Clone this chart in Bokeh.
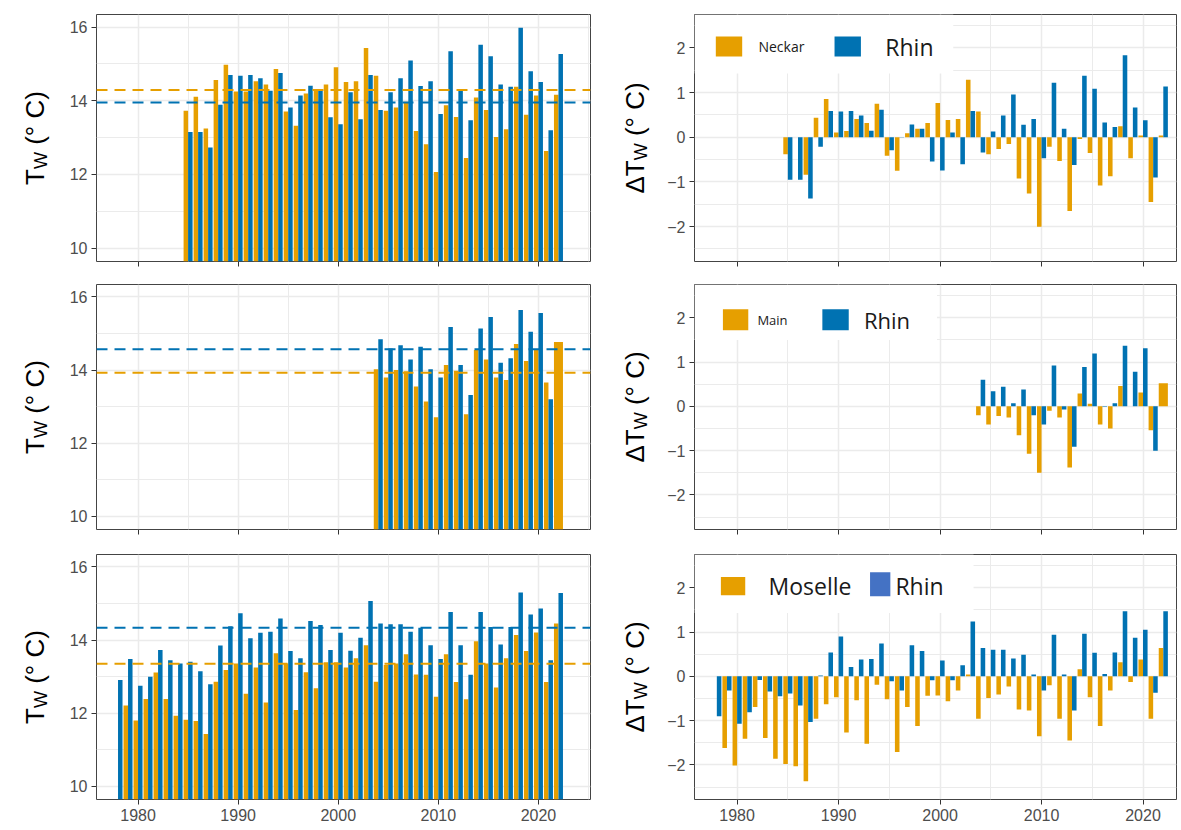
import math
import numpy as np
from collections import Counter
from bokeh.plotting import figure
from bokeh.layouts import column, row
from bokeh.models import Range1d, FixedTicker, Span, Label
from bokeh.embed import file_html
from bokeh.resources import INLINE
from bokeh.core.properties import value

ORANGE = "#E69F00"
BLUE = "#0072B2"
BLUE_LEG = "#4472C4"
NAN = float("nan")

# ---------------- data ----------------
# Neckar vs Rhine
years_neckar = list(range(1985, 2023))
neckar_T = [13.73, 14.11, 13.25, 14.56, 14.98, 14.25, 14.25, 14.53, 14.44, 14.86,
            13.71, 13.32, 14.20, 14.29, 14.44, 14.91, 14.51, 14.53, 15.43, 14.68,
            13.73, 13.82, 13.97, 13.18, 12.82, 12.07, 13.88, 13.56, 12.45, 14.09,
            13.75, 13.02, 13.23, 14.38, 13.62, 14.14, 12.64, 14.16]
rhin_T_neckar = [13.15, 13.15, 12.73, 13.89, 14.70, 14.68, 14.70, 14.61, 14.27, 14.75,
                 13.82, 14.14, 14.41, 14.29, 13.55, 13.36, 14.23, 13.50, 14.70, 13.75,
                 14.23, 14.61, 15.09, 14.40, 14.53, 13.64, 15.34, 14.29, 13.47, 15.52,
                 15.21, 14.44, 14.38, 15.98, 14.80, 14.51, 13.20, 15.27]
neckar_dT = [-0.38, 0.00, -0.84, 0.44, 0.86, 0.11, 0.14, 0.41, 0.32, 0.75,
             -0.41, -0.75, 0.09, 0.19, 0.32, 0.77, 0.39, 0.41, 1.29, 0.58,
             -0.38, -0.26, -0.15, -0.92, -1.26, -2.00, -0.21, -0.53, -1.65, -0.04,
             -0.35, -1.08, -0.87, 0.25, -0.47, 0.04, -1.45, 0.04]
rhin_dT_neckar = [-0.95, -0.95, -1.37, -0.21, 0.59, 0.58, 0.59, 0.49, 0.15, 0.62,
                  -0.29, 0.01, 0.29, 0.19, -0.54, -0.74, 0.11, -0.60, 0.59, -0.34,
                  0.13, 0.49, 0.96, 0.28, 0.41, -0.47, 1.22, 0.19, -0.62, 1.38,
                  1.09, 0.33, 0.23, 1.84, 0.67, 0.38, -0.90, 1.14]
mean_neckar_T = 14.29
mean_rhin_T_neckar = 13.95

# Main vs Rhine
years_main = list(range(2004, 2023))
main_T = [14.02, 13.80, 14.00, 13.97, 13.55, 13.14, 12.71, 14.14, 13.98, 12.79,
          14.55, 14.29, 13.80, 13.73, 14.71, 14.25, 14.56, 13.66, 14.77]
main_dT = [-0.20, -0.41, -0.22, -0.25, -0.65, -1.07, -1.50, -0.10, -0.25, -1.38,
           0.29, 0.06, -0.41, -0.50, 0.46, 0.00, 0.31, -0.54, 0.52]
years_rhin_main = list(range(2004, 2022))
rhin_T_main = [14.84, 14.59, 14.68, 14.29, 14.64, 14.02, 13.80, 15.18, 14.14, 13.32,
               15.14, 15.45, 14.20, 14.32, 15.64, 15.05, 15.56, 13.20]
rhin_dT_main = [0.60, 0.34, 0.44, 0.07, 0.38, -0.20, -0.41, 0.92, -0.07, -0.91,
                0.89, 1.19, -0.01, 0.07, 1.37, 0.78, 1.31, -1.00]
mean_main_T = 13.93
mean_rhin_T_main = 14.57

# Moselle vs Rhine
years_moselle = list(range(1978, 2023))
moselle_T = [NAN, 12.21, 11.80, 12.39, 13.11, 12.39, 11.93, 11.82, 11.79, 11.43,
             12.86, 13.18, 13.36, 12.53, 13.25, 12.29, 13.64, 13.36, 12.09, 13.12,
             12.68, 13.39, 13.39, 13.25, 13.50, 13.86, 12.86, 13.32, 13.36, 13.61,
             13.06, 13.05, 12.45, 13.61, 12.85, 12.38, 13.97, 13.36, 12.70, 13.50,
             14.14, 13.70, 14.21, 12.85, 14.45]
rhin_T_moselle = [12.91, 13.48, 12.75, 13.00, 13.73, 13.45, 13.36, 13.41, 13.15, 12.79,
                  13.85, 14.38, 14.73, 14.05, 14.20, 14.23, 14.59, 13.70, 13.50, 14.52,
                  14.41, 13.73, 14.20, 13.71, 14.06, 15.07, 14.45, 14.43, 14.43, 14.23,
                  14.34, 13.86, 13.48, 14.77, 13.86, 13.05, 14.77, 14.36, 13.88, 14.36,
                  15.30, 14.70, 14.86, 13.45, 15.29]
moselle_dT = [NAN, -1.62, -2.01, -1.41, -0.69, -1.39, -1.86, -1.98, -2.03, -2.37,
              -0.96, -0.63, -0.47, -1.27, -0.54, -1.52, -0.19, -0.52, -1.71, -0.69,
              -1.12, -0.44, -0.43, -0.56, -0.32, 0.04, -0.96, -0.49, -0.41, -0.23,
              -0.75, -0.77, -1.35, -0.20, -0.96, -1.45, 0.16, -0.47, -1.12, -0.32,
              0.32, -0.13, 0.38, -0.96, 0.64]
rhin_dT_moselle = [-0.90, -0.32, -1.07, -0.81, -0.08, -0.34, -0.45, -0.39, -0.66, -1.03,
                   0.02, 0.54, 0.90, 0.21, 0.38, 0.39, 0.74, -0.11, -0.32, 0.70,
                   0.57, -0.09, 0.36, -0.09, 0.25, 1.24, 0.64, 0.60, 0.60, 0.40,
                   0.49, 0.04, -0.32, 0.94, 0.04, -0.77, 0.96, 0.53, 0.05, 0.54,
                   1.47, 0.87, 1.05, -0.37, 1.47]
mean_moselle_T = 13.35
mean_rhin_T_moselle = 14.34

x_ticks = [1980, 1990, 2000, 2010, 2020]
x_minor = [1975, 1985, 1995, 2005, 2015, 2025]
t_ticks = [10, 12, 14, 16]
t_minor = [11, 13, 15]
dt_ticks = [-2, -1, 0, 1, 2]
dt_minor = [-2.5, -1.5, -0.5, 0.5, 1.5, 2.5]

# ---------------- layout constants ----------------
T_RANGE = (9.64, 16.34)
DT_RANGE = (-2.78, 2.75)
XL_RANGE = (1975.85, 2025.2)
XR_RANGE = (1975.8, 2023.3)
ROWS = [(14, 247, 12), (11, 245, 12), (13, 245, 27)]  # top border, frame h, bottom border
LW_FRAME, LW_BL, LW_BR = 494, 45, 8
RW_FRAME, RW_BL, RW_BR = 482, 42, 3
LT_W, RT_W = 51, 54
FONT = "Liberation Sans"
GRID = "#EBEBEB"
DARK = "#333333"


def dodge(series):
    cnt = Counter(y for yrs, _, _ in series for y in yrs)
    out = []
    for i, (yrs, vals, color) in enumerate(series):
        xs, ws, vs = [], [], []
        for yv, v in zip(yrs, vals):
            if cnt[yv] >= 2:
                x = yv + (-0.225 if i == 0 else 0.225)
                w = 0.45
            else:
                x, w = yv, 0.9
            if v is None or (isinstance(v, float) and math.isnan(v)):
                continue
            xs.append(x); ws.append(w); vs.append(v)
        out.append((xs, ws, vs, color))
    return out


def panel(rowi, left, yr, yticks, yminor, show_x):
    bt, fh, bb = ROWS[rowi]
    if left:
        fw, bl, br, xr = LW_FRAME, LW_BL, LW_BR, XL_RANGE
    else:
        fw, bl, br, xr = RW_FRAME, RW_BL, RW_BR, XR_RANGE
    p = figure(frame_width=fw, frame_height=fh, min_border_top=bt, min_border_bottom=bb,
               min_border_left=bl, min_border_right=br, x_range=Range1d(*xr),
               y_range=Range1d(*yr), output_backend="svg", toolbar_location=None, tools="")
    p.background_fill_color = "white"
    p.border_fill_color = "white"
    p.outline_line_color = "#444444"
    p.outline_line_width = 1
    p.xaxis.ticker = FixedTicker(ticks=x_ticks, minor_ticks=x_minor)
    p.yaxis.ticker = FixedTicker(ticks=yticks, minor_ticks=yminor)
    for ax in (p.xaxis[0], p.yaxis[0]):
        ax.axis_line_color = None
        ax.major_tick_line_color = DARK
        ax.major_tick_out = 5
        ax.major_tick_in = 0
        ax.minor_tick_out = 0
        ax.minor_tick_in = 0
        ax.major_label_text_color = "#4D4D4D"
        ax.major_label_text_font = FONT
        ax.major_label_text_font_size = "16px"
        ax.major_label_standoff = 4
    if not show_x:
        p.xaxis.major_label_text_color = None
        p.xaxis.major_label_text_font_size = "1px"
        p.xaxis.major_label_standoff = 0
    for g in (p.xgrid[0], p.ygrid[0]):
        g.grid_line_color = GRID
        g.grid_line_width = 1.5
        g.minor_grid_line_color = GRID
        g.minor_grid_line_width = 1
    return p


def title_fig(rowi, w, delta, cx):
    bt, fh, bb = ROWS[rowi]
    p = figure(frame_width=w, frame_height=fh, min_border_top=bt, min_border_bottom=bb,
               min_border_left=0, min_border_right=0, x_range=Range1d(0, w),
               y_range=Range1d(0, fh), x_axis_type=None, y_axis_type=None,
               output_backend="svg", toolbar_location=None, tools="")
    p.outline_line_color = None
    p.background_fill_color = "white"
    p.border_fill_color = "white"
    big, small = 26, 18
    head = "ΔT" if delta else "T"
    w_head = (0.668 + 0.611) * big if delta else 0.611 * big
    w_sub = 0.944 * small
    w_space = 0.278 * big
    w_rest = 2.066 * big
    total = w_head + w_sub + w_space + w_rest
    y0 = fh / 2 - total / 2
    kw = dict(angle=math.pi / 2, text_align="left", text_baseline="middle",
              text_font=FONT, text_color="black")
    p.add_layout(Label(x=cx, y=y0, text=head, text_font_size=f"{big}px", **kw))
    p.add_layout(Label(x=cx + 6, y=y0 + w_head, text="W", text_font_size=f"{small}px", **kw))
    p.add_layout(Label(x=cx, y=y0 + w_head + w_sub + w_space, text="(° C)",
                       text_font_size=f"{big}px", **kw))
    return p


def draw_bars(p, series, bottom):
    for xs, ws, vs, color in dodge(series):
        p.vbar(x=xs, width=ws, top=vs, bottom=bottom, fill_color=color, line_color=None)


def add_mean(p, v, color):
    p.add_layout(Span(location=v, dimension="width", line_color=color,
                      line_dash="11 7", line_width=2))


def add_legend(p, box_right, box_bottom, items, ytop):
    p.quad(left=[XR_RANGE[0]], right=[box_right], bottom=[box_bottom], top=[ytop],
           fill_color="white", line_color=None)
    for (l, r, b, t, color, tx, ty, txt, fs) in items:
        p.quad(left=[l], right=[r], bottom=[b], top=[t], fill_color=color, line_color=None)
        p.text(x=[tx], y=[ty], text=[txt], text_font=value("Open Sans"),
               text_font_size=fs, text_baseline="middle", text_align="left",
               text_color="#1a1a1a")


rows = []
configs = [
    (0, (years_neckar, neckar_T, ORANGE), (years_neckar, rhin_T_neckar, BLUE),
     (years_neckar, neckar_dT, ORANGE), (years_neckar, rhin_dT_neckar, BLUE),
     mean_neckar_T, mean_rhin_T_neckar),
    (1, (years_main, main_T, ORANGE), (years_rhin_main, rhin_T_main, BLUE),
     (years_main, main_dT, ORANGE), (years_rhin_main, rhin_dT_main, BLUE),
     mean_main_T, mean_rhin_T_main),
    (2, (years_moselle, moselle_T, ORANGE), (years_moselle, rhin_T_moselle, BLUE),
     (years_moselle, moselle_dT, ORANGE), (years_moselle, rhin_dT_moselle, BLUE),
     mean_moselle_T, mean_rhin_T_moselle),
]

legends = [
    (2001.3, 1.43, [
        (1977.9, 1980.5, 1.81, 2.26, ORANGE, 1982.1, 2.03, "Neckar", "14px"),
        (1989.6, 1992.2, 1.81, 2.26, BLUE, 1994.6, 2.03, "Rhin", "23px"),
    ]),
    (1999.7, 1.50, [
        (1978.6, 1981.1, 1.72, 2.19, ORANGE, 1982.0, 1.95, "Main", "13px"),
        (1988.4, 1991.0, 1.72, 2.19, BLUE, 1992.5, 1.95, "Rhin", "22px"),
    ]),
    (2003.3, 1.43, [
        (1978.4, 1980.8, 1.83, 2.24, ORANGE, 1983.1, 2.04, "Moselle", "23px"),
        (1993.1, 1995.1, 1.81, 2.35, BLUE_LEG, 1995.6, 2.04, "Rhin", "23px"),
    ]),
]

for (ri, o_t, b_t, o_d, b_d, m_o, m_b) in configs:
    show_x = ri == 2
    pl = panel(ri, True, T_RANGE, t_ticks, t_minor, show_x)
    draw_bars(pl, [o_t, b_t], 0)
    add_mean(pl, m_o, ORANGE)
    add_mean(pl, m_b, BLUE)
    pr = panel(ri, False, DT_RANGE, dt_ticks, dt_minor, show_x)
    box_r, box_b, items = legends[ri]
    add_legend(pr, box_r, box_b, items, DT_RANGE[1])
    draw_bars(pr, [o_d, b_d], 0)
    lt = title_fig(ri, LT_W, False, 34)
    rt = title_fig(ri, RT_W, True, 36)
    rows.append(row(lt, pl, rt, pr))

layout = column(*rows)

open("out.html", "w").write(file_html(layout, INLINE))
